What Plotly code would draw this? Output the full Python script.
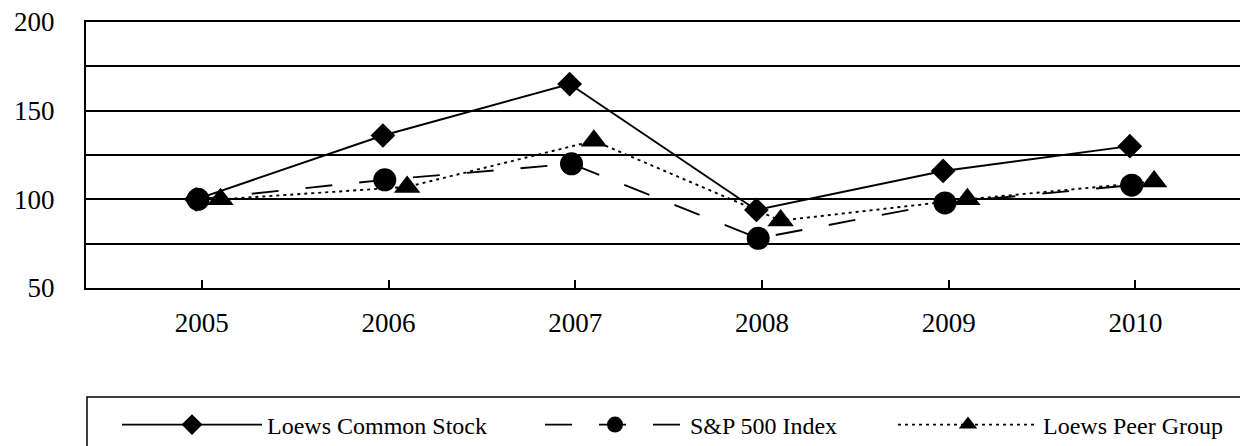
import plotly.graph_objects as go

# ---- data ----
years = ["2005", "2006", "2007", "2008", "2009", "2010"]
loews_common = [100, 136, 165, 94, 116, 130]
sp500 = [100, 111, 120, 78, 98, 108]
peer_group = [100, 107, 133, 88, 100, 110]
y_ticks = [50, 75, 100, 125, 150, 175, 200]
y_tick_text = ["50", "", "100", "", "150", "", "200"]

# ---- layout constants (pixels) ----
W, H = 1240, 446
ML, MT, MB, MR = 86, 22, 446 - 288, 0
PW = W - ML - MR
PH = H - MT - MB
FONT = "Liberation Serif, Times New Roman, serif"

idx = list(range(len(years)))
# small per-series horizontal offsets (style, in category units)
off = {"loews": -0.03, "sp": -0.02, "peer": 0.10}


def xs(o):
    return [i + o for i in idx]


fig = go.Figure()
fig.add_trace(go.Scatter(
    x=xs(off["loews"]), y=loews_common, name="Loews Common Stock", mode="lines+markers",
    line=dict(color="black", width=1.9),
    marker=dict(symbol="diamond", size=19, color="black"),
    legend="legend"))
fig.add_trace(go.Scatter(
    x=xs(off["sp"]), y=sp500, name="S&P 500 Index", mode="lines+markers",
    line=dict(color="black", width=1.9, dash="27px,27px"),
    marker=dict(symbol="circle", size=23, color="black"),
    legend="legend2"))
fig.add_trace(go.Scatter(
    x=xs(off["peer"]), y=peer_group, name="Loews Peer Group", mode="lines+markers",
    line=dict(color="black", width=1.9, dash="3px,4px"),
    marker=dict(symbol="triangle-up", size=23, color="black"),
    legend="legend3"))


def px_x(p):
    return (p - ML) / PW


def px_y(p):
    return (H - MB - p) / PH


legend_common = dict(
    orientation="h", xanchor="left", yanchor="middle",
    bgcolor="rgba(0,0,0,0)", borderwidth=0, itemwidth=140,
    font=dict(family=FONT, size=24, color="black"), itemclick=False,
)

fig.update_layout(
    width=W, height=H,
    margin=dict(l=ML, r=MR, t=MT, b=MB, autoexpand=False),
    paper_bgcolor="white", plot_bgcolor="white",
    showlegend=True,
    legend=dict(x=px_x(117), y=px_y(425), **legend_common),
    legend2=dict(x=px_x(540), y=px_y(425), **legend_common),
    legend3=dict(x=px_x(893), y=px_y(425), **legend_common),
    xaxis=dict(
        range=[-0.62, 5.56], tickmode="array", tickvals=idx, ticktext=years,
        showgrid=False, zeroline=False,
        showline=True, linecolor="black", linewidth=2, mirror=True,
        ticks="inside", ticklen=8, tickcolor="black", tickwidth=1.5,
        ticklabelstandoff=10,
        tickfont=dict(family=FONT, size=27, color="black"),
    ),
    yaxis=dict(
        range=[50, 200], tickmode="array", tickvals=y_ticks, ticktext=y_tick_text,
        showgrid=True, gridcolor="black", gridwidth=1.8, zeroline=False,
        showline=True, linecolor="black", linewidth=2,
        ticks="", ticklabelstandoff=24,
        tickfont=dict(family=FONT, size=27, color="black"),
    ),
    shapes=[dict(
        type="rect", xref="paper", yref="paper",
        x0=px_x(87), x1=px_x(1300), y0=px_y(500), y1=px_y(397),
        line=dict(color="black", width=1.5), fillcolor="rgba(0,0,0,0)", layer="above",
    )],
)

fig.write_html("out.html", config={"displayModeBar": False},
               post_script="document.body.style.margin='0';")
